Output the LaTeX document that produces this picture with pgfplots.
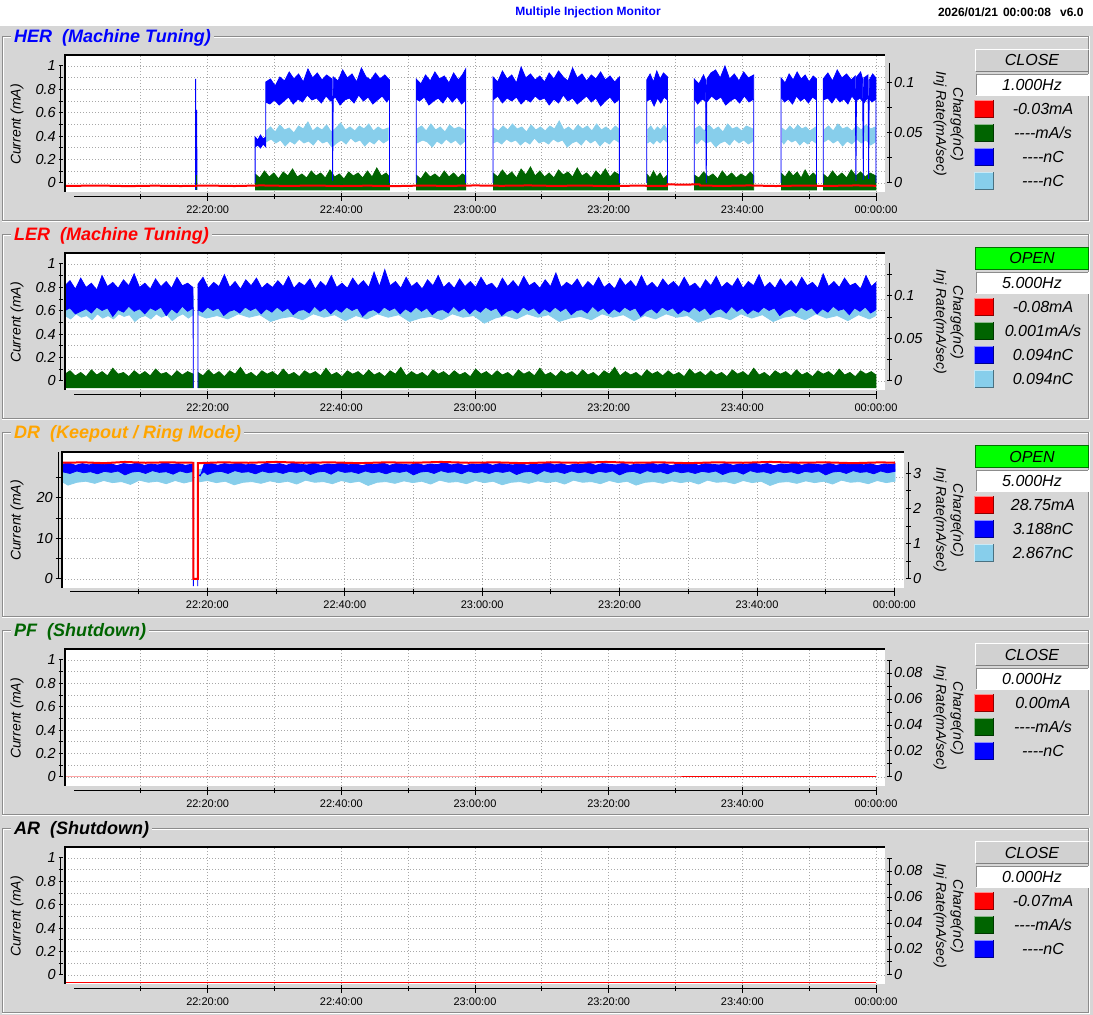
\documentclass[border=0pt]{standalone}
\usepackage{fontspec}
\setmainfont{Liberation Sans}
\usepackage{pgfplots}
\pgfplotsset{compat=1.18}
\definecolor{bg}{HTML}{D6D6D6}
\definecolor{cblue}{HTML}{0000FF}
\definecolor{clb}{HTML}{87CEEB}
\definecolor{cgreen}{HTML}{006400}
\definecolor{cred}{HTML}{FF0000}
\definecolor{corange}{HTML}{FFA500}
\definecolor{cgrid}{HTML}{A8A8A8}
\definecolor{clime}{HTML}{00FF00}
\newcommand\tickfont{\fontsize{14.5pt}{14.5pt}\selectfont\itshape}
\newcommand\timefont{\fontsize{11pt}{11pt}\selectfont}
\newcommand\labfont{\fontsize{14pt}{14pt}\selectfont\itshape}
\newcommand\legfont{\fontsize{16pt}{16pt}\selectfont\itshape}
\newcommand\titfont{\fontsize{18pt}{18pt}\selectfont\bfseries\itshape}
\newcommand\dd{-\kern0pt-\kern0pt-\kern0pt-}
\pgfplotsset{
 every axis/.append style={scale only axis, anchor=south west},
 bgax/.style={axis line style={draw=none}, tick style={draw=none}, xticklabels={}, yticklabels={}, grid=major,
   major grid style={cgrid, line width=0.9pt, dash pattern=on 1pt off 2pt}, axis background/.style={fill=white},
   xtick={10,20,30,40,50,60,70,80,90,100,110,120}},
 dax/.style={hide axis, unbounded coords=jump},
 common/.style={axis line style={-, line width=1pt, black}, every tick/.style={black, line width=1pt}, tick align=outside, scaled ticks=false},
 noarrows/.style={every outer x axis line/.append style={-}, every outer y axis line/.append style={-},
   every inner x axis line/.append style={-}, every inner y axis line/.append style={-}},
 lax/.style={common, axis x line=none, axis y line=left, ytick pos=left, xmin=0, xmax=1, major tick length=5pt, minor tick length=5pt,
   yticklabel style={font=\tickfont, inner sep=2.5pt}, noarrows},
 tax/.style={common, axis y line=none, axis x line=bottom, xtick pos=bottom, xmin=0, xmax=120, ymin=0, ymax=1, height=10pt,
   xtick={20,40,60,80,100,120}, xticklabels={22:20:00,22:40:00,23:00:00,23:20:00,23:40:00,00:00:00},
   minor xtick={10,30,50,70,90,110}, major tick length=8pt, minor tick length=5pt, xticklabel style={font=\timefont, inner sep=2pt, yshift=-2.5pt}, noarrows},
 rax/.style={common, axis x line=none, axis y line=right, ytick pos=right, xmin=0, xmax=1, major tick length=5pt, minor tick length=5pt,
   yticklabel style={font=\tickfont, inner sep=2.5pt}, noarrows},
 lab01/.style={ymin=0, ymax=1, ytick={0,0.2,0.4,0.6,0.8,1}, yticklabels={0,0.2,0.4,0.6,0.8,1}, minor ytick={0.1,0.3,0.5,0.7,0.9}},
 grid01/.style={ytick={0,0.1,0.2,0.3,0.4,0.5,0.6,0.7,0.8,0.9,1}},
 fblue/.style={fill=cblue, draw=cblue, line width=0.8pt},
 flb/.style={fill=clb, draw=clb, line width=0.8pt},
 fgreen/.style={fill=cgreen, draw=cgreen, line width=0.8pt},
}
\newcommand\panel[3]{%
\begin{scope}[x=1pt,y=1pt,yshift=-#1pt]
 \draw[black!45, line width=1pt] (2.5,978) -- (1088.5,978) -- (1088.5,794) -- (2.5,794) -- cycle;
 \draw[white, line width=1pt] (3.5,794.5) -- (3.5,977) -- (1087.5,977);
 \draw[white, line width=1pt] (2,793) -- (1089.5,793) -- (1089.5,978.5);
 \node[anchor=base west, fill=bg, inner xsep=3pt, inner ysep=3pt, text=#2, font=\titfont] at (11,972.3) {#3};
 \node[rotate=90, font=\labfont] at (17,890.5) {Current (mA)};
 \node[rotate=-90, font=\labfont] at (957,890.5) {Charge(nC)};
 \node[rotate=-90, font=\labfont] at (940,891) {Inj Rate(mA/sec)};
\end{scope}}
\newcommand\btnclose[1]{%
 \fill[black!18] (975,943) rectangle (1089,966);
 \draw[white,line width=1.2pt] (975.6,943.6)--(975.6,965.4)--(1088.4,965.4);
 \draw[black!50,line width=1.2pt] (975.6,943.6)--(1088.4,943.6)--(1088.4,965.4);
 \node[font=\legfont] at (1032,954.5) {#1};}
\newcommand\btnopen[1]{%
 \fill[clime] (975,943) rectangle (1089,966);
 \draw[green!45!black,line width=1.2pt] (975.6,943.6) rectangle (1088.4,965.4);
 \node[font=\legfont] at (1032,954.5) {#1};}
\newcommand\hzbox[1]{%
 \fill[white] (976,919) rectangle (1089,941);
 \draw[black!45,line width=1.2pt] (976.6,919.6)--(976.6,940.4)--(1088.4,940.4);
 \node[font=\legfont] at (1032,929.7) {#1};}
\newcommand\lrow[3]{%
 \pgfmathsetmacro\yc{905.8-23.9*#1}
 \fill[#2] (974,\yc-9) rectangle (994,\yc+9);
 \draw[#2!45!white, line width=1.2pt] (974.6,\yc-9) -- (974.6,\yc+8.4) -- (994,\yc+8.4);
 \draw[#2!55!black, line width=1.2pt] (974.6,\yc-8.4) -- (993.4,\yc-8.4) -- (993.4,\yc+9);
 \node[font=\legfont] at (1043,\yc) {#3};}
\begin{document}
\begin{tikzpicture}
\begin{scope}[x=1pt,y=1pt]
\fill[bg] (0,0) rectangle (1093,989);
\fill[white] (0,989) rectangle (1093,1015);
\node[font=\fontsize{12pt}{12pt}\selectfont\bfseries, text=cblue] at (588,1002.5) {Multiple Injection Monitor};
\node[font=\fontsize{12pt}{12pt}\selectfont\bfseries, anchor=east] at (1087,1002.5) {2026/01/21\hspace{5pt}00:00:08\hspace{9pt}v6.0};
\end{scope}
\panel{0}{cblue}{HER\ \ (Machine Tuning)}
\panel{198}{cred}{LER\ \ (Machine Tuning)}
\panel{396}{corange}{DR\ \ (Keepout / Ring Mode)}
\panel{594}{cgreen}{PF\ \ (Shutdown)}
\panel{792}{black}{AR\ \ (Shutdown)}
\begin{scope}[x=1pt,y=1pt]
\btnclose{CLOSE}\hzbox{1.000Hz}
\lrow{0}{cred}{-0.03mA}\lrow{1}{cgreen}{\dd mA/s}\lrow{2}{cblue}{\dd nC}\lrow{3}{clb}{\dd nC}
\end{scope}
\begin{scope}[x=1pt,y=1pt,yshift=-198pt]
\btnopen{OPEN}\hzbox{5.000Hz}
\lrow{0}{cred}{-0.08mA}\lrow{1}{cgreen}{0.001mA/s}\lrow{2}{cblue}{0.094nC}\lrow{3}{clb}{0.094nC}
\end{scope}
\begin{scope}[x=1pt,y=1pt,yshift=-396pt]
\btnopen{OPEN}\hzbox{5.000Hz}
\lrow{0}{cred}{28.75mA}\lrow{1}{cblue}{3.188nC}\lrow{2}{clb}{2.867nC}
\end{scope}
\begin{scope}[x=1pt,y=1pt,yshift=-594pt]
\btnclose{CLOSE}\hzbox{0.000Hz}
\lrow{0}{cred}{0.00mA}\lrow{1}{cgreen}{\dd mA/s}\lrow{2}{cblue}{\dd nC}
\end{scope}
\begin{scope}[x=1pt,y=1pt,yshift=-792pt]
\btnclose{CLOSE}\hzbox{0.000Hz}
\lrow{0}{cred}{-0.07mA}\lrow{1}{cgreen}{\dd mA/s}\lrow{2}{cblue}{\dd nC}
\end{scope}

% ================= HER =================
\begin{axis}[bgax, grid01, at={(65pt,823pt)}, width=820pt, height=137pt, xmin=-1.35, xmax=121.35, ymin=-0.077, ymax=1.094]
\end{axis}
\begin{axis}[dax, at={(65pt,823pt)}, width=820pt, height=137pt, xmin=-1.35, xmax=121.35, ymin=-0.009, ymax=0.128]
\addplot[fgreen] table[row sep=\\]{x y\\
27.1 0.009\\27.8 0.005\\28.5 0.012\\29.2 0.006\\29.9 0.010\\30.6 0.004\\31.3 0.011\\32.0 0.007\\32.7 0.014\\33.4 0.006\\34.1 0.009\\34.8 0.005\\35.5 0.012\\36.2 0.007\\36.9 0.010\\37.6 0.005\\38.3 0.013\\39.0 0.006\\39.7 0.009\\40.4 0.004\\41.1 0.011\\41.8 0.007\\42.5 0.010\\43.2 0.005\\43.9 0.012\\44.6 0.006\\45.3 0.015\\46.0 0.007\\46.7 0.010\\47.2 0.006\\47.2 -0.007\\27.1 -0.007\\nan nan\\
51.2 0.008\\51.9 0.004\\52.6 0.011\\53.3 0.006\\54.0 0.009\\54.7 0.005\\55.4 0.012\\56.1 0.006\\56.8 0.010\\57.5 0.005\\58.1 0.009\\58.6 0.007\\58.6 -0.007\\51.2 -0.007\\nan nan\\
62.7 0.010\\63.4 0.006\\64.1 0.013\\64.8 0.007\\65.5 0.011\\66.2 0.005\\66.9 0.014\\67.6 0.008\\68.3 0.016\\69.0 0.007\\69.7 0.012\\70.4 0.006\\71.1 0.010\\71.8 0.005\\72.5 0.013\\73.2 0.008\\73.9 0.011\\74.6 0.006\\75.3 0.015\\76.0 0.007\\76.7 0.010\\77.4 0.005\\78.1 0.012\\78.8 0.007\\79.5 0.014\\80.2 0.006\\80.9 0.011\\81.6 0.008\\81.6 -0.007\\62.7 -0.007\\nan nan\\
85.7 0.009\\86.2 0.005\\86.7 0.012\\87.2 0.006\\87.7 0.010\\88.2 0.004\\88.8 0.008\\88.8 -0.007\\85.7 -0.007\\nan nan\\
92.8 0.008\\93.5 0.005\\94.2 0.011\\94.9 0.006\\95.6 0.009\\96.3 0.004\\97.0 0.012\\97.7 0.006\\98.4 0.010\\99.1 0.005\\99.8 0.009\\100.5 0.006\\101.2 0.011\\101.7 0.007\\101.7 -0.007\\92.8 -0.007\\nan nan\\
105.8 0.010\\106.4 0.006\\107.0 0.012\\107.6 0.007\\108.2 0.011\\108.8 0.005\\109.4 0.013\\110.0 0.006\\110.6 0.010\\111.1 0.007\\111.1 -0.007\\105.8 -0.007\\nan nan\\
112.1 0.009\\112.8 0.005\\113.5 0.012\\114.2 0.006\\114.9 0.010\\115.6 0.005\\116.3 0.013\\117.0 0.007\\117.7 0.011\\118.4 0.006\\119.1 0.010\\120.0 0.007\\120.0 -0.007\\112.1 -0.007\\nan nan\\
};
\addplot[flb] table[row sep=\\]{x y\\
28.7 0.052\\29.4 0.056\\30.1 0.051\\30.8 0.058\\31.5 0.053\\32.2 0.055\\32.9 0.050\\33.6 0.057\\34.3 0.054\\35.0 0.061\\35.7 0.052\\36.4 0.056\\37.1 0.053\\37.8 0.058\\38.5 0.051\\39.2 0.055\\39.9 0.060\\40.6 0.053\\41.3 0.056\\42.0 0.052\\42.7 0.057\\43.4 0.054\\44.1 0.059\\44.8 0.052\\45.5 0.056\\46.2 0.053\\47.0 0.055\\
47.0 0.043\\46.3 0.040\\45.6 0.044\\44.9 0.039\\44.2 0.042\\43.5 0.037\\42.8 0.043\\42.1 0.041\\41.4 0.045\\40.7 0.039\\40.0 0.043\\39.3 0.040\\38.6 0.036\\37.9 0.042\\37.2 0.040\\36.5 0.044\\35.8 0.038\\35.1 0.042\\34.4 0.040\\33.7 0.044\\33.0 0.039\\32.3 0.042\\31.6 0.037\\30.9 0.043\\30.2 0.040\\29.5 0.044\\28.7 0.041\\nan nan\\
51.3 0.054\\52.0 0.057\\52.7 0.052\\53.4 0.059\\54.1 0.053\\54.8 0.056\\55.5 0.051\\56.2 0.058\\56.9 0.054\\57.6 0.056\\58.5 0.053\\
58.5 0.042\\57.8 0.038\\57.1 0.043\\56.4 0.040\\55.7 0.044\\55.0 0.039\\54.3 0.042\\53.6 0.036\\52.9 0.041\\52.2 0.043\\51.3 0.040\\nan nan\\
62.8 0.055\\63.5 0.052\\64.2 0.057\\64.9 0.053\\65.6 0.059\\66.3 0.054\\67.0 0.056\\67.7 0.051\\68.4 0.058\\69.1 0.053\\69.8 0.056\\70.5 0.052\\71.2 0.057\\71.9 0.054\\72.6 0.062\\73.3 0.053\\74.0 0.056\\74.7 0.052\\75.4 0.058\\76.1 0.054\\76.8 0.057\\77.5 0.052\\78.2 0.059\\78.9 0.053\\79.6 0.056\\80.3 0.052\\81.0 0.057\\81.5 0.054\\
81.5 0.041\\80.8 0.044\\80.1 0.039\\79.4 0.042\\78.7 0.037\\78.0 0.043\\77.3 0.040\\76.6 0.044\\75.9 0.038\\75.2 0.042\\74.5 0.040\\73.8 0.036\\73.1 0.043\\72.4 0.041\\71.7 0.044\\71.0 0.039\\70.3 0.042\\69.6 0.040\\68.9 0.045\\68.2 0.039\\67.5 0.042\\66.8 0.038\\66.1 0.043\\65.4 0.041\\64.7 0.044\\64.0 0.039\\63.3 0.042\\62.8 0.040\\nan nan\\
85.8 0.053\\86.3 0.057\\86.8 0.052\\87.3 0.056\\87.8 0.053\\88.3 0.058\\88.7 0.054\\
88.7 0.041\\88.2 0.044\\87.7 0.040\\87.2 0.043\\86.7 0.039\\86.2 0.042\\85.8 0.040\\nan nan\\
92.9 0.054\\93.6 0.057\\94.3 0.052\\95.0 0.058\\95.7 0.053\\96.4 0.056\\97.1 0.051\\97.8 0.059\\98.5 0.054\\99.2 0.056\\99.9 0.052\\100.6 0.057\\101.6 0.054\\
101.6 0.042\\100.9 0.039\\100.2 0.043\\99.5 0.040\\98.8 0.044\\98.1 0.038\\97.4 0.042\\96.7 0.040\\96.0 0.036\\95.3 0.042\\94.6 0.040\\93.9 0.044\\93.2 0.039\\92.9 0.041\\nan nan\\
105.9 0.055\\106.5 0.052\\107.1 0.057\\107.7 0.053\\108.3 0.058\\108.9 0.054\\109.5 0.056\\110.1 0.052\\111.0 0.056\\
111.0 0.040\\110.4 0.043\\109.8 0.039\\109.2 0.042\\108.6 0.038\\108.0 0.043\\107.4 0.041\\106.8 0.044\\106.2 0.039\\105.9 0.042\\nan nan\\
112.2 0.053\\112.9 0.057\\113.6 0.052\\114.3 0.059\\115.0 0.054\\115.7 0.056\\116.4 0.052\\117.1 0.057\\117.8 0.053\\118.5 0.058\\119.2 0.054\\119.9 0.056\\
119.9 0.041\\119.2 0.038\\118.5 0.043\\117.8 0.040\\117.1 0.044\\116.4 0.039\\115.7 0.042\\115.0 0.037\\114.3 0.043\\113.6 0.040\\112.9 0.044\\112.2 0.041\\nan nan\\
};
\addplot[fblue] table[row sep=\\]{x y\\
27.1 0\\27.1 0.046\\27.5 0.043\\27.9 0.048\\28.3 0.044\\28.7 0.046\\28.7 0.101\\29.4 0.104\\30.1 0.097\\30.8 0.106\\31.5 0.102\\32.2 0.111\\32.9 0.104\\33.6 0.109\\34.3 0.101\\35.0 0.114\\35.7 0.105\\36.4 0.110\\37.1 0.103\\37.8 0.108\\38.6 0.104\\38.7 0.002\\38.8 0.106\\39.5 0.102\\40.2 0.113\\40.9 0.105\\41.6 0.109\\42.3 0.101\\43.0 0.115\\43.7 0.106\\44.4 0.103\\45.1 0.110\\45.8 0.104\\46.5 0.108\\47.2 0.103\\47.2 0\\47.2 0.085\\
46.8 0.081\\46.1 0.087\\45.4 0.083\\44.7 0.079\\44.0 0.086\\43.3 0.082\\42.6 0.088\\41.9 0.080\\41.2 0.085\\40.5 0.083\\39.8 0.078\\39.1 0.086\\38.4 0.082\\37.7 0.087\\37.0 0.080\\36.3 0.085\\35.6 0.083\\34.9 0.088\\34.2 0.081\\33.5 0.084\\32.8 0.079\\32.1 0.086\\31.4 0.082\\30.7 0.078\\30.0 0.083\\29.3 0.079\\28.7 0.081\\28.7 0.036\\28.3 0.039\\27.9 0.035\\27.5 0.038\\27.1 0.036\\nan nan\\
51.2 0\\51.2 0.104\\51.9 0.099\\52.6 0.108\\53.3 0.102\\54.0 0.111\\54.7 0.104\\55.4 0.107\\56.1 0.100\\56.8 0.110\\57.5 0.103\\58.1 0.108\\58.6 0.114\\58.6 0\\58.6 0.083\\
58.0 0.079\\57.3 0.086\\56.6 0.081\\55.9 0.087\\55.2 0.080\\54.5 0.085\\53.8 0.082\\53.1 0.078\\52.4 0.086\\51.7 0.082\\51.2 0.084\\nan nan\\
62.7 0\\62.7 0.106\\63.4 0.101\\64.1 0.112\\64.8 0.104\\65.5 0.108\\66.2 0.100\\66.9 0.116\\67.6 0.105\\68.3 0.109\\69.0 0.103\\69.7 0.107\\70.4 0.101\\71.1 0.110\\71.8 0.104\\72.5 0.112\\73.2 0.106\\73.9 0.102\\74.6 0.115\\75.3 0.105\\76.0 0.109\\76.7 0.102\\77.4 0.108\\78.1 0.104\\78.8 0.111\\79.5 0.103\\80.2 0.107\\80.9 0.101\\81.6 0.106\\81.6 0\\81.6 0.084\\
80.9 0.080\\80.2 0.086\\79.5 0.082\\78.8 0.077\\78.1 0.085\\77.4 0.081\\76.7 0.087\\76.0 0.083\\75.3 0.079\\74.6 0.085\\73.9 0.082\\73.2 0.088\\72.5 0.080\\71.8 0.084\\71.1 0.078\\70.4 0.085\\69.7 0.083\\69.0 0.087\\68.3 0.081\\67.6 0.084\\66.9 0.079\\66.2 0.086\\65.5 0.082\\64.8 0.085\\64.1 0.080\\63.4 0.087\\62.7 0.083\\nan nan\\
85.7 0\\85.7 0.103\\86.2 0.109\\86.7 0.101\\87.2 0.112\\87.7 0.104\\88.2 0.110\\88.8 0.106\\88.8 0\\88.8 0.083\\
88.3 0.086\\87.8 0.080\\87.3 0.085\\86.8 0.077\\86.3 0.084\\85.7 0.082\\nan nan\\
92.8 0\\92.8 0.104\\93.5 0.099\\94.2 0.108\\94.5 0.103\\94.6 0.000\\94.7 0.104\\95.3 0.110\\96.0 0.113\\96.7 0.105\\97.4 0.117\\98.1 0.104\\98.8 0.109\\99.5 0.102\\100.2 0.111\\100.9 0.105\\101.7 0.108\\101.7 0\\101.7 0.084\\
101.0 0.081\\100.3 0.087\\99.6 0.080\\98.9 0.085\\98.2 0.082\\97.5 0.078\\96.8 0.086\\96.1 0.083\\95.4 0.087\\94.7 0.081\\94.0 0.084\\93.3 0.079\\92.8 0.085\\nan nan\\
105.8 0\\105.8 0.105\\106.4 0.100\\107.0 0.109\\107.6 0.103\\108.2 0.111\\108.8 0.104\\109.4 0.108\\110.0 0.101\\110.6 0.107\\111.1 0.104\\111.1 0\\111.1 0.083\\
110.5 0.086\\109.9 0.080\\109.3 0.085\\108.7 0.082\\108.1 0.087\\107.5 0.079\\106.9 0.084\\106.3 0.081\\105.8 0.086\\nan nan\\
112.1 0\\112.1 0.104\\112.8 0.110\\113.5 0.102\\114.2 0.113\\114.9 0.105\\115.6 0.109\\116.3 0.103\\116.9 0.107\\117.0 0.002\\117.1 0.106\\117.7 0.111\\118.0 0.104\\118.1 0.003\\118.2 0.105\\118.8 0.108\\118.9 0.004\\119.0 0.103\\119.5 0.109\\120.0 0.105\\120.0 0\\120.0 0.084\\
119.4 0.081\\118.8 0.086\\118.2 0.080\\117.6 0.085\\117.0 0.082\\116.4 0.087\\115.8 0.079\\115.2 0.084\\114.6 0.081\\114.0 0.086\\113.4 0.080\\112.8 0.085\\112.1 0.083\\nan nan\\
};
\addplot[cblue, line width=1pt] table[row sep=\\]{x y\\18.2 -0.007\\18.2 0.104\\18.25 -0.007\\18.33 0.073\\18.4 -0.007\\};
\addplot[cgreen, line width=1pt] table[row sep=\\]{x y\\18.3 -0.007\\18.3 0.008\\};
\end{axis}
\begin{axis}[dax, at={(65pt,823pt)}, width=820pt, height=137pt, xmin=-1.35, xmax=121.35, ymin=-0.077, ymax=1.094]
\addplot[cred, line width=2pt] table[row sep=\\]{x y\\-1.35 -0.025\\4 -0.022\\8 -0.027\\12 -0.023\\16 -0.026\\20 -0.022\\24 -0.026\\28 -0.021\\32 -0.025\\36 -0.022\\40 -0.026\\44 -0.023\\48 -0.027\\52 -0.022\\56 -0.025\\60 -0.021\\64 -0.024\\68 -0.021\\72 -0.025\\76 -0.022\\80 -0.026\\84 -0.023\\88.7 -0.025\\88.8 -0.012\\91 -0.014\\93.6 -0.012\\93.7 -0.022\\97 -0.025\\101 -0.021\\105 -0.026\\109 -0.022\\113 -0.025\\117 -0.021\\120 -0.024\\};
\end{axis}
\begin{axis}[lax, lab01, at={(61pt,832pt)}, width=815pt, height=117pt]\end{axis}
\begin{axis}[tax, at={(74pt,818.3pt)}, width=802pt]\end{axis}
\begin{axis}[rax, at={(74pt,832pt)}, width=815pt, height=120pt, ymin=0, ymax=0.12, ytick={0,0.05,0.1}, yticklabels={0,0.05,0.1}, minor ytick={0.025,0.075}]\end{axis}

% ================= LER =================
\begin{axis}[bgax, grid01, at={(65pt,625pt)}, width=820pt, height=137pt, xmin=-1.35, xmax=121.35, ymin=-0.077, ymax=1.094]
\end{axis}
\begin{axis}[dax, at={(65pt,625pt)}, width=820pt, height=137pt, xmin=-1.35, xmax=121.35, ymin=-0.0106, ymax=0.1506]
\addplot[fgreen] table[row sep=\\]{x y\\
-1.35 0.008\\-0.6 0.012\\0.2 0.006\\1.0 0.010\\1.8 0.005\\2.6 0.013\\3.4 0.007\\4.2 0.011\\5.0 0.006\\5.8 0.015\\6.6 0.008\\7.4 0.010\\8.2 0.005\\9.0 0.012\\9.8 0.007\\10.6 0.011\\11.4 0.006\\12.2 0.014\\13.0 0.008\\13.8 0.010\\14.6 0.005\\15.4 0.012\\16.2 0.007\\17.0 0.011\\17.85 0.008\\17.85 -0.008\\-1.35 -0.008\\nan nan\\
18.55 0.010\\19.3 0.006\\20.1 0.013\\20.9 0.007\\21.7 0.011\\22.5 0.005\\23.3 0.012\\24.1 0.008\\24.9 0.016\\25.7 0.007\\26.5 0.010\\27.3 0.005\\28.1 0.012\\28.9 0.008\\29.7 0.011\\30.5 0.006\\31.3 0.014\\32.1 0.007\\32.9 0.010\\33.7 0.005\\34.5 0.012\\35.3 0.008\\36.1 0.011\\36.9 0.006\\37.7 0.015\\38.5 0.007\\39.3 0.010\\40.1 0.005\\40.9 0.012\\41.7 0.008\\42.5 0.011\\43.3 0.006\\44.1 0.013\\44.9 0.007\\45.7 0.010\\46.5 0.005\\47.3 0.012\\48.1 0.008\\48.9 0.016\\49.7 0.006\\50.5 0.011\\51.3 0.007\\52.1 0.010\\52.9 0.005\\53.7 0.013\\54.5 0.008\\55.3 0.011\\56.1 0.006\\56.9 0.012\\57.7 0.007\\58.5 0.010\\59.3 0.005\\60.1 0.014\\60.9 0.008\\61.7 0.011\\62.5 0.006\\63.3 0.012\\64.1 0.007\\64.9 0.010\\65.7 0.005\\66.5 0.013\\67.3 0.008\\68.1 0.011\\68.9 0.006\\69.7 0.015\\70.5 0.007\\71.3 0.010\\72.1 0.005\\72.9 0.012\\73.7 0.008\\74.5 0.011\\75.3 0.006\\76.1 0.013\\76.9 0.007\\77.7 0.010\\78.5 0.005\\79.3 0.012\\80.1 0.008\\80.9 0.016\\81.7 0.006\\82.5 0.011\\83.3 0.007\\84.1 0.010\\84.9 0.005\\85.7 0.013\\86.5 0.008\\87.3 0.011\\88.1 0.006\\88.9 0.012\\89.7 0.007\\90.5 0.010\\91.3 0.005\\92.1 0.014\\92.9 0.008\\93.7 0.011\\94.5 0.006\\95.3 0.012\\96.1 0.007\\96.9 0.010\\97.7 0.005\\98.5 0.013\\99.3 0.008\\100.1 0.011\\100.9 0.006\\101.7 0.015\\102.5 0.007\\103.3 0.010\\104.1 0.005\\104.9 0.012\\105.7 0.008\\106.5 0.011\\107.3 0.006\\108.1 0.013\\108.9 0.007\\109.7 0.010\\110.5 0.005\\111.3 0.012\\112.1 0.008\\112.9 0.011\\113.7 0.006\\114.5 0.014\\115.3 0.007\\116.1 0.010\\116.9 0.005\\117.7 0.012\\118.5 0.008\\119.3 0.011\\120.0 0.007\\120.0 -0.008\\18.55 -0.008\\nan nan\\
};
\addplot[flb] table[row sep=\\]{x y\\
-1.35 0.1\\17.85 0.1\\17.85 0.078\\17.1 0.074\\16.3 0.079\\15.5 0.076\\14.7 0.071\\13.9 0.078\\13.1 0.075\\12.3 0.079\\11.5 0.073\\10.7 0.077\\9.9 0.075\\9.1 0.070\\8.3 0.078\\7.5 0.076\\6.7 0.079\\5.9 0.073\\5.1 0.077\\4.3 0.074\\3.5 0.079\\2.7 0.072\\1.9 0.077\\1.1 0.075\\0.3 0.079\\-0.5 0.073\\-1.35 0.077\\nan nan\\
18.55 0.1\\120 0.1\\120 0.077\\119.0 0.073\\117.4 0.078\\115.8 0.071\\114.2 0.077\\112.6 0.074\\111.0 0.079\\109.4 0.072\\107.8 0.077\\106.2 0.075\\104.6 0.070\\103.0 0.078\\101.4 0.074\\99.8 0.079\\98.2 0.072\\96.6 0.076\\95.0 0.074\\93.4 0.069\\91.8 0.077\\90.2 0.075\\88.6 0.079\\87.0 0.073\\85.4 0.077\\83.8 0.071\\82.2 0.078\\80.6 0.075\\79.0 0.079\\77.4 0.072\\75.8 0.076\\74.2 0.074\\72.6 0.070\\71.0 0.078\\69.4 0.075\\67.8 0.079\\66.2 0.073\\64.6 0.077\\63.0 0.074\\61.4 0.068\\59.8 0.077\\58.2 0.075\\56.6 0.079\\55.0 0.072\\53.4 0.076\\51.8 0.074\\50.2 0.070\\48.6 0.078\\47.0 0.075\\45.4 0.079\\43.8 0.073\\42.2 0.077\\40.6 0.071\\39.0 0.078\\37.4 0.075\\35.8 0.079\\34.2 0.072\\32.6 0.076\\31.0 0.074\\29.4 0.070\\27.8 0.078\\26.2 0.075\\24.6 0.079\\23.0 0.073\\21.4 0.077\\19.8 0.074\\18.55 0.078\\nan nan\\
};
\addplot[fblue] table[row sep=\\]{x y\\
-1.35 0.112\\-0.6 0.118\\0.2 0.108\\1.0 0.121\\1.8 0.110\\2.6 0.115\\3.4 0.107\\4.2 0.124\\5.0 0.111\\5.8 0.116\\6.6 0.109\\7.4 0.119\\8.2 0.112\\9.0 0.126\\9.8 0.110\\10.6 0.115\\11.4 0.108\\12.2 0.120\\13.0 0.111\\13.8 0.117\\14.6 0.109\\15.4 0.122\\16.2 0.112\\17.0 0.115\\17.8 0.110\\17.85 -0.008\\17.85 0.086\\
17.0 0.082\\16.2 0.088\\15.4 0.080\\14.6 0.085\\13.8 0.077\\13.0 0.087\\12.2 0.083\\11.4 0.086\\10.6 0.079\\9.8 0.085\\9.0 0.082\\8.2 0.088\\7.4 0.081\\6.6 0.084\\5.8 0.076\\5.0 0.086\\4.2 0.083\\3.4 0.087\\2.6 0.080\\1.8 0.085\\1.0 0.082\\0.2 0.079\\-0.6 0.086\\-1.35 0.083\\nan nan\\
18.55 -0.008\\18.55 0.114\\19.3 0.122\\20.1 0.109\\20.9 0.116\\21.7 0.111\\22.5 0.125\\23.3 0.110\\24.1 0.117\\24.9 0.108\\25.7 0.119\\26.5 0.112\\27.3 0.121\\28.1 0.109\\28.9 0.115\\29.7 0.110\\30.5 0.118\\31.3 0.111\\32.1 0.123\\32.9 0.109\\33.7 0.116\\34.5 0.112\\35.3 0.120\\36.1 0.108\\36.9 0.117\\37.7 0.111\\38.5 0.124\\39.3 0.110\\40.1 0.115\\40.9 0.109\\41.7 0.121\\42.5 0.112\\43.3 0.118\\44.1 0.110\\44.9 0.128\\45.7 0.111\\46.5 0.131\\47.3 0.112\\48.1 0.117\\48.9 0.109\\49.7 0.122\\50.5 0.111\\51.3 0.116\\52.1 0.108\\52.9 0.119\\53.7 0.112\\54.5 0.124\\55.3 0.110\\56.1 0.116\\56.9 0.109\\57.7 0.120\\58.5 0.111\\59.3 0.117\\60.1 0.110\\60.9 0.122\\61.7 0.112\\62.5 0.115\\63.3 0.108\\64.1 0.121\\64.9 0.111\\65.7 0.118\\66.5 0.110\\67.3 0.123\\68.1 0.112\\68.9 0.116\\69.7 0.109\\70.5 0.119\\71.3 0.111\\72.1 0.127\\72.9 0.110\\73.7 0.116\\74.5 0.112\\75.3 0.120\\76.1 0.109\\76.9 0.117\\77.7 0.111\\78.5 0.122\\79.3 0.110\\80.1 0.115\\80.9 0.108\\81.7 0.121\\82.5 0.112\\83.3 0.118\\84.1 0.110\\84.9 0.124\\85.7 0.111\\86.5 0.116\\87.3 0.109\\88.1 0.120\\88.9 0.112\\89.7 0.117\\90.5 0.110\\91.3 0.122\\92.1 0.111\\92.9 0.115\\93.7 0.108\\94.5 0.119\\95.3 0.112\\96.1 0.123\\96.9 0.110\\97.7 0.116\\98.5 0.111\\99.3 0.121\\100.1 0.109\\100.9 0.117\\101.7 0.112\\102.5 0.125\\103.3 0.110\\104.1 0.116\\104.9 0.109\\105.7 0.120\\106.5 0.111\\107.3 0.118\\108.1 0.110\\108.9 0.122\\109.7 0.112\\110.5 0.116\\111.3 0.109\\112.1 0.126\\112.9 0.111\\113.7 0.117\\114.5 0.110\\115.3 0.121\\116.1 0.112\\116.9 0.115\\117.7 0.108\\118.5 0.124\\119.3 0.111\\120.0 0.116\\
120.0 0.084\\119.2 0.080\\118.4 0.087\\117.6 0.082\\116.8 0.086\\116.0 0.078\\115.2 0.085\\114.4 0.083\\113.6 0.088\\112.8 0.081\\112.0 0.085\\111.2 0.079\\110.4 0.086\\109.6 0.083\\108.8 0.087\\108.0 0.080\\107.2 0.085\\106.4 0.082\\105.6 0.077\\104.8 0.086\\104.0 0.083\\103.2 0.087\\102.4 0.081\\101.6 0.084\\100.8 0.079\\100.0 0.086\\99.2 0.082\\98.4 0.088\\97.6 0.080\\96.8 0.085\\96.0 0.083\\95.2 0.078\\94.4 0.086\\93.6 0.082\\92.8 0.087\\92.0 0.081\\91.2 0.084\\90.4 0.079\\89.6 0.086\\88.8 0.083\\88.0 0.087\\87.2 0.080\\86.4 0.085\\85.6 0.082\\84.8 0.076\\84.0 0.086\\83.2 0.083\\82.4 0.087\\81.6 0.081\\80.8 0.085\\80.0 0.079\\79.2 0.086\\78.4 0.082\\77.6 0.088\\76.8 0.080\\76.0 0.084\\75.2 0.083\\74.4 0.078\\73.6 0.086\\72.8 0.082\\72.0 0.087\\71.2 0.081\\70.4 0.085\\69.6 0.079\\68.8 0.086\\68.0 0.083\\67.2 0.087\\66.4 0.080\\65.6 0.084\\64.8 0.082\\64.0 0.077\\63.2 0.086\\62.4 0.083\\61.6 0.087\\60.8 0.081\\60.0 0.085\\59.2 0.079\\58.4 0.086\\57.6 0.082\\56.8 0.088\\56.0 0.080\\55.2 0.084\\54.4 0.083\\53.6 0.078\\52.8 0.086\\52.0 0.082\\51.2 0.087\\50.4 0.081\\49.6 0.085\\48.8 0.079\\48.0 0.086\\47.2 0.083\\46.4 0.087\\45.6 0.080\\44.8 0.084\\44.0 0.082\\43.2 0.076\\42.4 0.086\\41.6 0.083\\40.8 0.087\\40.0 0.081\\39.2 0.085\\38.4 0.079\\37.6 0.086\\36.8 0.082\\36.0 0.088\\35.2 0.080\\34.4 0.084\\33.6 0.083\\32.8 0.078\\32.0 0.086\\31.2 0.082\\30.4 0.087\\29.6 0.081\\28.8 0.085\\28.0 0.079\\27.2 0.086\\26.4 0.083\\25.6 0.087\\24.8 0.080\\24.0 0.084\\23.2 0.082\\22.4 0.077\\21.6 0.086\\20.8 0.083\\20.0 0.087\\19.2 0.081\\18.55 0.084\\nan nan\\
};
\end{axis}
\begin{axis}[dax, at={(65pt,625pt)}, width=820pt, height=137pt, xmin=-1.35, xmax=121.35, ymin=-0.077, ymax=1.094]
\addplot[cred, line width=1pt] table[row sep=\\]{x y\\-1.35 -0.08\\60 -0.08\\120 -0.08\\};
\end{axis}
\begin{axis}[lax, lab01, at={(61pt,634pt)}, width=815pt, height=117pt]\end{axis}
\begin{axis}[tax, at={(74pt,620.3pt)}, width=802pt]\end{axis}
\begin{axis}[rax, at={(74pt,634pt)}, width=815pt, height=118pt, ymin=0, ymax=0.1388, ytick={0,0.05,0.1}, yticklabels={0,0.05,0.1}, minor ytick={0.025,0.075,0.125}]\end{axis}

% ================= DR =================
\begin{axis}[bgax, at={(62pt,427pt)}, width=842pt, height=136pt, xmin=-1.164, xmax=121.4, ymin=-2.222, ymax=31.36, ytick={0,5,10,15,20,25}]
\end{axis}
\begin{axis}[dax, at={(62pt,427pt)}, width=842pt, height=136pt, xmin=-1.164, xmax=121.4, ymin=-0.255, ymax=3.598]
\addplot[flb] table[row sep=\\]{x y\\
-1.164 3.1\\17.9 3.1\\17.9 2.78\\16.6 2.72\\15.3 2.79\\14.0 2.70\\12.7 2.77\\11.4 2.74\\10.1 2.80\\8.8 2.68\\7.5 2.76\\6.2 2.73\\4.9 2.79\\3.6 2.71\\2.3 2.77\\1.0 2.74\\-0.3 2.66\\-1.164 2.76\\nan nan\\
18.7 3.1\\120.1 3.1\\120.1 2.77\\118.8 2.73\\117.5 2.79\\116.2 2.70\\114.9 2.76\\113.6 2.74\\112.3 2.80\\111.0 2.69\\109.7 2.77\\108.4 2.73\\107.1 2.78\\105.8 2.71\\104.5 2.76\\103.2 2.74\\101.9 2.65\\100.6 2.77\\99.3 2.73\\98.0 2.79\\96.7 2.70\\95.4 2.76\\94.1 2.74\\92.8 2.80\\91.5 2.69\\90.2 2.77\\88.9 2.73\\87.6 2.78\\86.3 2.71\\85.0 2.76\\83.7 2.74\\82.4 2.66\\81.1 2.77\\79.8 2.73\\78.5 2.79\\77.2 2.70\\75.9 2.76\\74.6 2.74\\73.3 2.80\\72.0 2.69\\70.7 2.77\\69.4 2.73\\68.1 2.78\\66.8 2.71\\65.5 2.76\\64.2 2.74\\62.9 2.67\\61.6 2.77\\60.3 2.73\\59.0 2.79\\57.7 2.70\\56.4 2.76\\55.1 2.74\\53.8 2.80\\52.5 2.69\\51.2 2.77\\49.9 2.73\\48.6 2.78\\47.3 2.71\\46.0 2.76\\44.7 2.74\\43.4 2.65\\42.1 2.77\\40.8 2.73\\39.5 2.79\\38.2 2.70\\36.9 2.76\\35.6 2.74\\34.3 2.80\\33.0 2.69\\31.7 2.77\\30.4 2.73\\29.1 2.78\\27.8 2.71\\26.5 2.76\\25.2 2.74\\23.9 2.67\\22.6 2.77\\21.3 2.73\\20.0 2.79\\18.7 2.75\\nan nan\\
};
\addplot[fblue] table[row sep=\\]{x y\\
-1.164 3.25\\-0.2 3.29\\0.8 3.22\\1.8 3.27\\2.8 3.23\\3.8 3.30\\4.8 3.24\\5.8 3.28\\6.8 3.21\\7.8 3.27\\8.8 3.24\\9.8 3.29\\10.8 3.22\\11.8 3.26\\12.8 3.23\\13.8 3.30\\14.8 3.24\\15.8 3.27\\16.8 3.22\\17.9 3.26\\17.96 -0.2\\17.96 3.05\\
17.0 3.01\\16.0 3.06\\15.0 2.97\\14.0 3.04\\13.0 3.02\\12.0 3.07\\11.0 2.99\\10.0 3.05\\9.0 3.03\\8.0 2.95\\7.0 3.06\\6.0 3.02\\5.0 3.05\\4.0 2.98\\3.0 3.04\\2.0 3.01\\1.0 3.06\\0.0 2.99\\-1.164 3.04\\nan nan\\
18.6 -0.2\\18.6 2.95\\19.0 2.92\\19.5 3.24\\20.5 3.28\\21.5 3.22\\22.5 3.27\\23.5 3.24\\24.5 3.30\\25.5 3.23\\26.5 3.26\\27.5 3.21\\28.5 3.28\\29.5 3.24\\30.5 3.27\\31.5 3.22\\32.5 3.29\\33.5 3.25\\34.5 3.23\\35.5 3.28\\36.5 3.22\\37.5 3.26\\38.5 3.24\\39.5 3.30\\40.5 3.23\\41.5 3.27\\42.5 3.21\\43.5 3.26\\44.5 3.24\\45.5 3.29\\46.5 3.22\\47.5 3.27\\48.5 3.25\\49.5 3.23\\50.5 3.28\\51.5 3.22\\52.5 3.26\\53.5 3.24\\54.5 3.30\\55.5 3.23\\56.5 3.27\\57.5 3.21\\58.5 3.26\\59.5 3.24\\60.5 3.29\\61.5 3.22\\62.5 3.27\\63.5 3.25\\64.5 3.23\\65.5 3.28\\66.5 3.22\\67.5 3.26\\68.5 3.24\\69.5 3.30\\70.5 3.23\\71.5 3.27\\72.5 3.21\\73.5 3.26\\74.5 3.24\\75.5 3.29\\76.5 3.22\\77.5 3.27\\78.5 3.25\\79.5 3.23\\80.5 3.28\\81.5 3.22\\82.5 3.26\\83.5 3.24\\84.5 3.30\\85.5 3.23\\86.5 3.27\\87.5 3.21\\88.5 3.26\\89.5 3.24\\90.5 3.29\\91.5 3.22\\92.5 3.27\\93.5 3.25\\94.5 3.23\\95.5 3.28\\96.5 3.22\\97.5 3.26\\98.5 3.24\\99.5 3.30\\100.5 3.23\\101.5 3.27\\102.5 3.21\\103.5 3.26\\104.5 3.24\\105.5 3.29\\106.5 3.22\\107.5 3.27\\108.5 3.25\\109.5 3.23\\110.5 3.28\\111.5 3.22\\112.5 3.26\\113.5 3.24\\114.5 3.30\\115.5 3.23\\116.5 3.27\\117.5 3.21\\118.5 3.26\\119.5 3.24\\120.1 3.27\\
120.1 3.05\\119.0 3.01\\118.0 3.06\\117.0 2.98\\116.0 3.04\\115.0 3.02\\114.0 3.07\\113.0 2.99\\112.0 3.05\\111.0 3.03\\110.0 2.95\\109.0 3.06\\108.0 3.02\\107.0 3.05\\106.0 2.98\\105.0 3.04\\104.0 3.01\\103.0 3.06\\102.0 2.99\\101.0 3.04\\100.0 3.02\\99.0 3.07\\98.0 2.97\\97.0 3.05\\96.0 3.03\\95.0 2.96\\94.0 3.06\\93.0 3.02\\92.0 3.05\\91.0 2.99\\90.0 3.04\\89.0 3.01\\88.0 3.06\\87.0 2.98\\86.0 3.04\\85.0 3.02\\84.0 3.07\\83.0 2.99\\82.0 3.05\\81.0 3.03\\80.0 2.95\\79.0 3.06\\78.0 3.02\\77.0 3.05\\76.0 2.98\\75.0 3.04\\74.0 3.01\\73.0 3.06\\72.0 2.99\\71.0 3.04\\70.0 3.02\\69.0 3.07\\68.0 2.97\\67.0 3.05\\66.0 3.03\\65.0 2.96\\64.0 3.06\\63.0 3.02\\62.0 3.05\\61.0 2.99\\60.0 3.04\\59.0 3.01\\58.0 3.06\\57.0 2.98\\56.0 3.04\\55.0 3.02\\54.0 3.07\\53.0 2.99\\52.0 3.05\\51.0 3.03\\50.0 2.95\\49.0 3.06\\48.0 3.02\\47.0 3.05\\46.0 2.98\\45.0 3.04\\44.0 3.01\\43.0 3.06\\42.0 2.99\\41.0 3.04\\40.0 3.02\\39.0 3.07\\38.0 2.97\\37.0 3.05\\36.0 3.03\\35.0 2.96\\34.0 3.06\\33.0 3.02\\32.0 3.05\\31.0 2.99\\30.0 3.04\\29.0 3.01\\28.0 3.06\\27.0 2.98\\26.0 3.04\\25.0 3.02\\24.0 3.07\\23.0 2.99\\22.0 3.05\\21.0 3.03\\20.0 2.96\\19.5 3.04\\18.6 2.90\\nan nan\\
};
\end{axis}
\begin{axis}[dax, at={(62pt,427pt)}, width=842pt, height=136pt, xmin=-1.164, xmax=121.4, ymin=-2.222, ymax=31.36]
\addplot[cred, line width=2pt] table[row sep=\\]{x y\\-1.164 28.7\\2 28.8\\5 28.6\\8 28.9\\11 28.7\\14 28.8\\17.96 28.7\\17.96 0\\18.6 0\\18.6 28.6\\22 28.8\\26 28.7\\30 28.9\\34 28.7\\38 28.8\\42 28.6\\46 28.8\\50 28.7\\54 28.9\\58 28.7\\62 28.8\\66 28.6\\70 28.8\\74 28.7\\78 28.9\\82 28.7\\86 28.8\\90 28.6\\94 28.8\\98 28.7\\102 28.9\\106 28.7\\110 28.8\\114 28.6\\118 28.8\\120.1 28.7\\};
\end{axis}
\begin{axis}[lax, at={(58pt,436pt)}, width=836pt, height=127pt, ymin=0, ymax=31.36, ytick={0,10,20}, yticklabels={0,10,20}, minor ytick={5,15,25}]\end{axis}
\begin{axis}[tax, at={(70pt,423pt)}, width=824.4pt]\end{axis}
\begin{axis}[rax, at={(70pt,436pt)}, width=838pt, height=117pt, ymin=0, ymax=3.314, ytick={0,1,2,3}, yticklabels={0,1,2,3}, minor ytick={0.5,1.5,2.5}]\end{axis}

% ================= PF =================
\begin{axis}[bgax, grid01, at={(65pt,229pt)}, width=820pt, height=137pt, xmin=-1.35, xmax=121.35, ymin=-0.077, ymax=1.094]
\end{axis}
\begin{axis}[dax, at={(65pt,229pt)}, width=820pt, height=137pt, xmin=-1.35, xmax=121.35, ymin=-0.077, ymax=1.094]
\addplot[cred, line width=1pt] table[row sep=\\]{x y\\-1.35 0\\60 0\\120 0\\};
\end{axis}
\begin{axis}[lax, lab01, at={(61pt,238pt)}, width=815pt, height=117pt]\end{axis}
\begin{axis}[tax, at={(74pt,224.3pt)}, width=802pt]\end{axis}
\begin{axis}[rax, at={(74pt,238pt)}, width=815pt, height=117pt, ymin=0, ymax=0.09, ytick={0,0.02,0.04,0.06,0.08}, yticklabels={0,0.02,0.04,0.06,0.08}, minor ytick={0.01,0.03,0.05,0.07,0.09}]\end{axis}

% ================= AR =================
\begin{axis}[bgax, grid01, at={(65pt,31pt)}, width=820pt, height=137pt, xmin=-1.35, xmax=121.35, ymin=-0.077, ymax=1.094]
\end{axis}
\begin{axis}[dax, at={(65pt,31pt)}, width=820pt, height=137pt, xmin=-1.35, xmax=121.35, ymin=-0.077, ymax=1.094]
\addplot[cred, line width=1pt] table[row sep=\\]{x y\\-1.35 -0.063\\60 -0.063\\120 -0.063\\};
\end{axis}
\begin{axis}[lax, lab01, at={(61pt,40pt)}, width=815pt, height=117pt]\end{axis}
\begin{axis}[tax, at={(74pt,26.3pt)}, width=802pt]\end{axis}
\begin{axis}[rax, at={(74pt,40pt)}, width=815pt, height=117pt, ymin=0, ymax=0.09, ytick={0,0.02,0.04,0.06,0.08}, yticklabels={0,0.02,0.04,0.06,0.08}, minor ytick={0.01,0.03,0.05,0.07,0.09}]\end{axis}

\begin{scope}[x=1pt,y=1pt]
\draw[line width=2pt] (65,823)--(65,960)--(885,960);
\draw[line width=2pt] (65,625)--(65,762)--(885,762);
\draw[line width=2pt] (62,427)--(62,563)--(904,563);
\draw[line width=2pt] (65,229)--(65,366)--(885,366);
\draw[line width=2pt] (65,31)--(65,168)--(885,168);
\end{scope}
\pgfresetboundingbox
\path[use as bounding box] (0,0) rectangle (1093pt,1015pt);
\end{tikzpicture}
\end{document}
